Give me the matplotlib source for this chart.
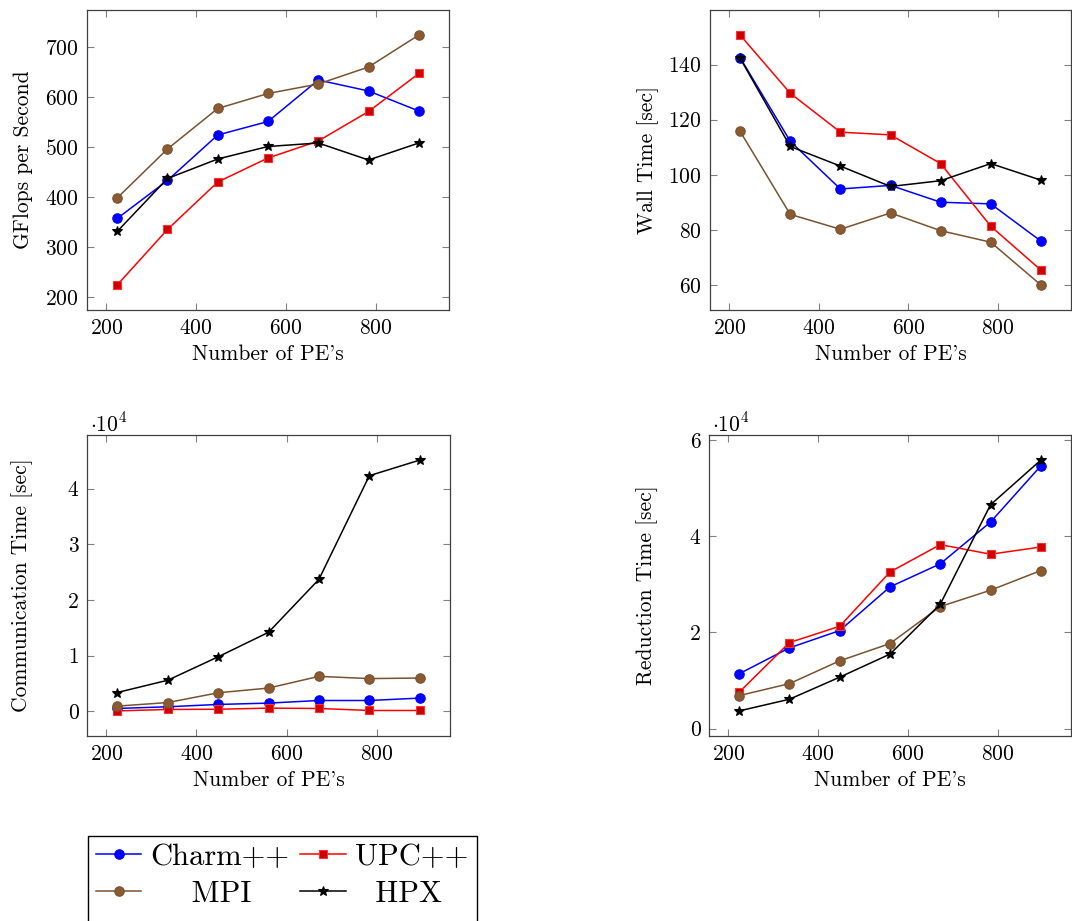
import matplotlib
matplotlib.use('Agg')
import matplotlib.pyplot as plt
from matplotlib.ticker import FuncFormatter
from matplotlib.patches import Rectangle

plt.rcParams['font.family'] = 'serif'
plt.rcParams['font.serif'] = ['cmr10']
plt.rcParams['mathtext.fontset'] = 'cm'
plt.rcParams['axes.formatter.use_mathtext'] = True

# number of processing elements
pes = [224, 336, 448, 560, 672, 784, 896]

# GFlops per second
gflops_charm = [357, 433, 524, 551, 634, 612, 572]
gflops_upc = [224, 335, 430, 478, 512, 571, 647]
gflops_mpi = [398, 496, 577, 607, 626, 660, 724]
gflops_hpx = [331, 437, 476, 501, 508, 474, 508]

# wall time [sec]
wall_charm = [142.5, 112.2, 94.9, 96.2, 90.1, 89.5, 76.0]
wall_upc = [150.7, 129.6, 115.5, 114.5, 104.1, 81.4, 65.5]
wall_mpi = [115.8, 85.7, 80.3, 86.2, 79.8, 75.6, 60.1]
wall_hpx = [142.3, 110.3, 103.2, 95.8, 97.9, 104.1, 98.1]

# communication time [sec]
comm_charm = [540, 840, 1260, 1500, 1970, 1970, 2400]
comm_upc = [100, 360, 400, 600, 540, 180, 180]
comm_mpi = [960, 1600, 3350, 4200, 6300, 5900, 6000]
comm_hpx = [3400, 5600, 9800, 14200, 23700, 42300, 45100]

# reduction time [sec]
red_charm = [11400, 16800, 20400, 29500, 34300, 43000, 54700]
red_upc = [7550, 17900, 21300, 32600, 38300, 36300, 37800]
red_mpi = [6860, 9350, 14100, 17700, 25400, 28800, 32900]
red_hpx = [3670, 6100, 10700, 15500, 25900, 46600, 55900]

names = ['Charm++', 'UPC++', 'MPI', 'HPX']
line_colors = ['#0000ff', '#ff0000', '#7a5230', '#000000']
face_colors = ['#0000ff', '#cc0000', '#8a5a30', '#000000']
edge_colors = ['#0000ff', '#ff3030', '#7a5230', '#000000']
markers = ['o', 's', 'o', '*']
msizes = [6.8, 6.4, 6.8, 7]

FS = 15.5
W, H = 1072, 921
fig = plt.figure(figsize=(W / 100, H / 100), dpi=100)

def box(left, top, right, bottom):
    return [left / W, 1 - bottom / H, (right - left) / W, (bottom - top) / H]

panels = [
    (box(87, 10, 449, 310), [gflops_charm, gflops_upc, gflops_mpi, gflops_hpx],
     'GFlops per Second', [200, 300, 400, 500, 600, 700], False, -0.150),
    (box(710, 10, 1071, 310), [wall_charm, wall_upc, wall_mpi, wall_hpx],
     'Wall Time [sec]', [60, 80, 100, 120, 140], False, -0.141),
    (box(87, 435, 450, 736), [comm_charm, comm_upc, comm_mpi, comm_hpx],
     'Communication Time [sec]', [0, 10000, 20000, 30000, 40000], True, -0.150),
    (box(709, 435, 1071, 736), [red_charm, red_upc, red_mpi, red_hpx],
     'Reduction Time [sec]', [0, 20000, 40000, 60000], True, -0.141),
]

handles = []
for rect, series, ylabel, yticks, scaled, ylab_x in panels:
    ax = fig.add_axes(rect)
    hs = []
    for i, vals in enumerate(series):
        h, = ax.plot(pes, vals, color=line_colors[i], lw=1.1, marker=markers[i],
                     ms=msizes[i], mfc=face_colors[i], mec=edge_colors[i],
                     mew=0.8, label=names[i])
        hs.append(h)
    handles = hs
    ax.margins(x=0.1, y=0.1)
    ax.set_xticks([200, 400, 600, 800])
    ax.set_yticks(yticks)
    if scaled:
        ax.yaxis.set_major_formatter(FuncFormatter(lambda v, p: '%g' % (v / 1e4)))
        ax.text(0.008, 1.0, r'$\cdot 10^4$', transform=ax.transAxes, fontsize=FS,
                ha='left', va='bottom')
    ax.tick_params(direction='in', top=True, right=True, length=5, width=0.8,
                   color='#808080', labelsize=FS, pad=6)
    for s in ax.spines.values():
        s.set_color('#404040')
        s.set_linewidth(0.9)
    ax.set_ylabel(ylabel, fontsize=FS)
    ax.set_xlabel("Number of PE's", fontsize=FS)
    ax.yaxis.set_label_coords(ylab_x, 0.5)
    ax.xaxis.set_label_coords(0.5, -0.115)

# pgfplots fills the legend row by row
order = [0, 2, 1, 3]
labels = ['Charm++', 'UPC++', '    MPI', '  HPX']
leg = fig.legend([handles[k] for k in order], [labels[k] for k in order],
                 loc='upper left', bbox_to_anchor=(88 / W, 1 - 836 / H), ncol=2,
                 fontsize=22, frameon=False, handlelength=1.5, handletextpad=0.3,
                 columnspacing=0.35, borderpad=0.25, labelspacing=0.3,
                 borderaxespad=0)
# legend frame runs past the bottom of the page, as in the original
fig.add_artist(Rectangle((87.5 / W, -0.05), (477 - 87.5) / W, 0.05 + 1 - 836 / H,
                         transform=fig.transFigure, fill=False, edgecolor='black',
                         lw=1.0))

fig.savefig('out.png', dpi=100)
